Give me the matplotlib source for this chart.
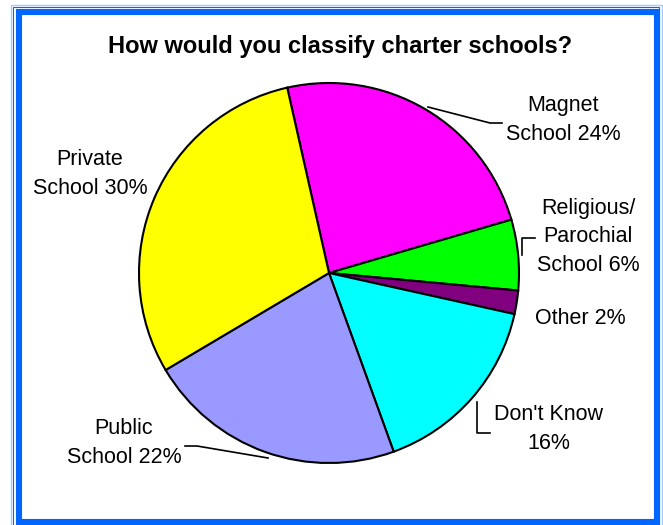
import matplotlib
matplotlib.use("Agg")
from matplotlib import pyplot
from matplotlib.patches import Rectangle

# data
categories = ["Magnet School", "Religious/ Parochial School", "Other",
              "Don't Know", "Public School", "Private School"]
shares = [24, 6, 2, 16, 22, 30]
colors = ["#FF00FF", "#00FF00", "#800080", "#00FFFF", "#9999FF", "#FFFF00"]
label_texts = ["Magnet\nSchool 24%", "Religious/\nParochial\nSchool 6%", "Other 2%",
               "Don't Know\n16%", "Public\nSchool 22%", "Private\nSchool 30%"]

W, H = 663, 525
pyplot.rcParams['font.family'] = ['Liberation Sans', 'DejaVu Sans']

fig = pyplot.figure(figsize=(W / 100, H / 100), dpi=100)
ax = fig.add_axes([0, 0, 1, 1])
ax.set_xlim(0, W)
ax.set_ylim(0, H)
ax.set_aspect('equal')
ax.axis('off')


def Y(y):
    # image pixel row -> data y
    return H - y


# frame: outer light line, thin blue line, thick blue band
ax.add_patch(Rectangle((11, Y(530)), 650.5, 525.5, fill=False, edgecolor="#99CCFF", lw=1))
ax.add_patch(Rectangle((13.3, Y(528)), 646, 521.5, fill=False, edgecolor="#0066FF", lw=0.8))
ax.add_patch(Rectangle((18.6, Y(521.5)), 638, 509.3, fill=False, edgecolor="#0066FF", lw=4.4))

ax.text(340, Y(47), "How would you classify charter schools?", ha="center", va="center",
        fontsize=17, fontweight="bold", color="black")

ax.pie(shares, colors=colors, startangle=102.7, counterclock=False,
       center=(329, Y(273)), radius=190,
       wedgeprops=dict(edgecolor="black", linewidth=1.5))
ax.set_xlim(0, W)
ax.set_ylim(0, H)

# label positions (image pixels)
label_pos = [(563, 120), (588, 237), (580, 318), (549, 429), (124, 443), (90, 174)]
for txt, (x, y) in zip(label_texts, label_pos):
    ax.text(x, Y(y), txt, ha="center", va="center", fontsize=15.5, linespacing=1.45)

# leader lines
leaders = [
    [(428, 107), (490, 123), (502, 123)],
    [(522, 255), (522, 238), (535, 238)],
    [(477, 402), (477, 433), (490, 433)],
    [(268, 458), (197, 446), (185, 446)],
]
for pts in leaders:
    ax.plot([p[0] for p in pts], [Y(p[1]) for p in pts], color="black", lw=1.2)

fig.savefig("out.png", dpi=100)
pyplot.close(fig)
